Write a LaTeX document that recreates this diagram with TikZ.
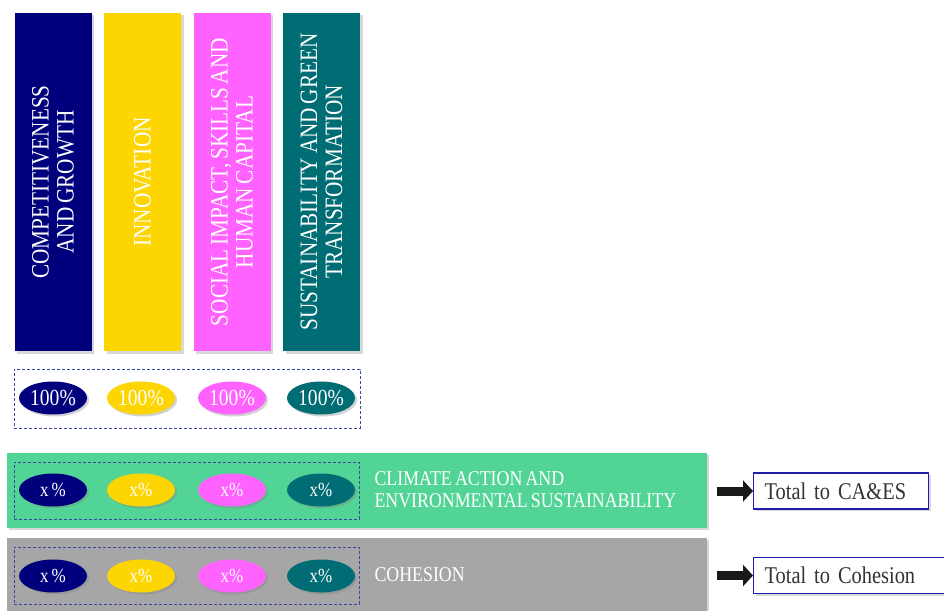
\documentclass[tikz,border=0pt]{standalone}
\usepackage{fontspec}
\setmainfont{Liberation Serif}[FakeStretch=0.85, WordSpace=0.7]
\usetikzlibrary{shadows,arrows.meta,shapes.geometric}
\definecolor{cnavy}{RGB}{0,0,125}
\definecolor{cyel}{RGB}{253,213,0}
\definecolor{cmag}{RGB}{255,98,255}
\definecolor{cteal}{RGB}{0,108,115}
\definecolor{cgreen}{RGB}{83,212,151}
\definecolor{cgray}{RGB}{166,166,166}
\definecolor{cdash}{RGB}{55,70,160}
\definecolor{cbox}{RGB}{30,30,170}
\tikzset{
  bar/.style={rectangle, minimum width=77pt, minimum height=338pt, inner sep=0pt,
    drop shadow={shadow xshift=2.5pt, shadow yshift=-2.5pt, opacity=0.3}},
  bartext/.style={rotate=90, text=white, align=center, font=\fontsize{25}{25}\selectfont},
  oval/.style={ellipse, minimum width=68pt, minimum height=33pt, inner sep=0pt, text=white,
    drop shadow={shadow xshift=2pt, shadow yshift=-2pt, opacity=0.35}},
  pct/.style={oval, font=\fontsize{23}{24}\selectfont},
  xpct/.style={oval, font=\fontsize{20}{22}\selectfont},
  dashbox/.style={rectangle, draw=cdash, line width=0.9pt, dash pattern=on 3pt off 2pt, inner sep=0pt},
  band/.style={rectangle, minimum width=700pt, inner sep=0pt,
    drop shadow={shadow xshift=2pt, shadow yshift=-2pt, opacity=0.3}},
  bandtext/.style={anchor=west, text=white, align=left, font=\fontsize{21}{22}\selectfont},
  totbox/.style={rectangle, draw=cbox, line width=1.2pt, fill=white, anchor=west, minimum height=36pt,
    inner xsep=11pt, align=left, text=black!80, font=\fontsize{24}{24}\selectfont,
    drop shadow={shadow xshift=2pt, shadow yshift=-2pt, opacity=0.3}},
  blockarrow/.style={line width=9pt, -{Triangle[length=10pt,width=21pt]}, black!90}
}
\begin{document}
\begin{tikzpicture}[x=1pt,y=-1pt]
\useasboundingbox[fill=white] (0,0) rectangle (944,610);
% top bars
\node[bar, fill=cnavy] (b1) at (53,182) {};
\node[bar, fill=cyel] (b2) at (142.5,182) {};
\node[bar, fill=cmag] (b3) at (232,182) {};
\node[bar, fill=cteal] (b4) at (321.5,182) {};
\node[bartext] (t1) at (b1) {COMPETITIVENESS\\AND GROWTH};
\node[bartext] (t2) at (b2) {INNOVATION};
\node[bartext] (t3) at (b3) {SOCIAL IMPACT, SKILLS AND\\HUMAN CAPITAL};
\node[bartext] (t4) at (b4) {SUSTAINABILITY AND GREEN\\TRANSFORMATION};
% 100% row
\node[dashbox, minimum width=346pt, minimum height=59pt] (d0) at (187,398.5) {};
\node[pct, fill=cnavy] (o1) at (53,398) {100\%};
\node[pct, fill=cyel] (o2) at (141,398) {100\%};
\node[pct, fill=cmag] (o3) at (232,398) {100\%};
\node[pct, fill=cteal] (o4) at (321,398) {100\%};
% green band
\node[band, fill=cgreen, minimum height=75pt] (g) at (357,490.5) {};
\node[dashbox, minimum width=345pt, minimum height=57pt] (dg) at (186.5,490.5) {};
\node[xpct, fill=cnavy] (g1) at (53,490) {x \%};
\node[xpct, fill=cyel] (g2) at (141,490) {x\%};
\node[xpct, fill=cmag] (g3) at (232,490) {x\%};
\node[xpct, fill=cteal] (g4) at (321,490) {x\%};
\node[bandtext] (gt) at (371,490) {CLIMATE ACTION AND\\ENVIRONMENTAL SUSTAINABILITY};
% gray band
\node[band, fill=cgray, minimum height=80pt] (h) at (357,578) {};
\node[dashbox, minimum width=345pt, minimum height=57pt] (dh) at (186.5,575.5) {};
\node[xpct, fill=cnavy] (h1) at (53,576) {x \%};
\node[xpct, fill=cyel] (h2) at (141,576) {x\%};
\node[xpct, fill=cmag] (h3) at (232,576) {x\%};
\node[xpct, fill=cteal] (h4) at (321,576) {x\%};
\node[bandtext] (ht) at (371,575) {COHESION};
% totals
\node[totbox, text width=153pt] (tot1) at (753,491) {Total to CA\&ES};
\node[totbox, text width=176pt] (tot2) at (753,575.5) {Total to Cohesion};
\coordinate (a1) at (717,491);
\coordinate (a2) at (717,575.5);
\draw[blockarrow] (a1) -- (tot1.west);
\draw[blockarrow] (a2) -- (tot2.west);
\end{tikzpicture}
\end{document}
